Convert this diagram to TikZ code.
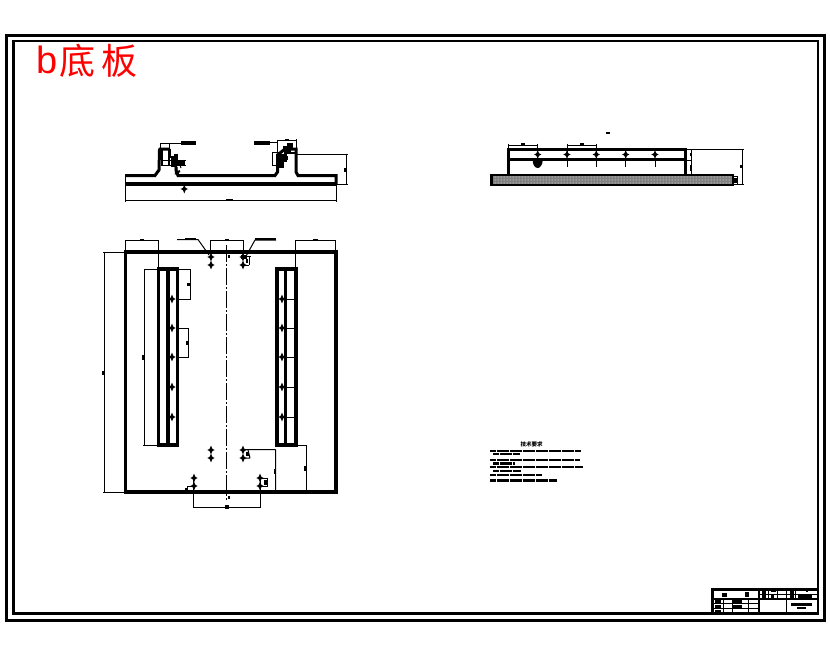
\documentclass[tikz,border=0pt]{standalone}
\usepackage{fontspec}
\setmainfont{Liberation Sans}
\newfontfamily\cjk{Noto Sans CJK SC}
\usetikzlibrary{patterns}
\tikzset{
  thin line/.style={line width=1pt},
  midline/.style={line width=2.2pt},
  textline/.style={line width=2.6pt,dash pattern=on 6pt off 0.5pt},
  holemark/.pic={\fill (-3.6,0)--(0,-1.8)--(3.6,0)--(0,1.8)--cycle; \fill (-1.8,0)--(0,-4.4)--(1.8,0)--(0,4.4)--cycle;},
}
\begin{document}
\begin{tikzpicture}[x=1pt,y=-1pt]
\useasboundingbox (0,0) rectangle (830,654);
\fill[white] (0,0) rectangle (830,654);
% frames
\draw[line width=3pt] (6.5,35) rectangle (824.5,620.5);
\draw[line width=2.8pt] (13.5,41) rectangle (818,613.5);
% heading
\node[red,anchor=base west,inner sep=0pt,font=\fontsize{38}{38}\selectfont] (heading) at (36,73) {b};
\node[red,anchor=base west,inner sep=0pt,font=\cjk\fontsize{36}{36}\selectfont] (headingcjk) at (59,74) {底\hspace{6pt}板};

% ---------- front view ----------
\draw[line width=3pt] (125,175.5) -- (155,175.5) -- (159,170) -- (159.5,150) -- (160,149) -- (170,149);
\draw[line width=3pt] (176,167) -- (176,170) -- (178,175.5) -- (275,175.5) -- (277.5,172) -- (277.5,155) -- (285,149) -- (296,149) -- (296,172) -- (298,175.5) -- (336,175.5) -- (336,184);
\draw[line width=3.2pt] (125,184) -- (336,184);
\draw[thin line] (125,175.5) -- (125,202);
\draw[thin line] (336,184) -- (336,202);
\draw[thin line] (125,200) -- (336,200);
\fill (226,198.5) rectangle (233,200.5);
\pic at (184.3,189) {holemark};
\draw[thin line] (184.3,184) -- (184.3,192);
% left rib detail
\draw[thin line] (160,143) -- (182,143) (160,143) -- (160,150) (169,143) -- (169,150);
\fill (181,141) rectangle (196,144.5);
\draw[midline] (162,149) -- (162,166) (169,149) -- (169,166) (170,149) -- (170,158);
\draw[thin line] (161,160) -- (186,160) (161,165) -- (186,165);
\fill (171,156) rectangle (176,167); \fill (174,154) rectangle (178,166);
\fill (178,160) rectangle (185,165);
\draw[midline] (176,160) -- (176,173) -- (180,171);
\draw[thin line] (180,165) -- (181,168);
% right rib detail
\draw[thin line] (254,142) -- (277,142) (277,139.5) -- (277,153) (277,140.5) -- (296,140.5) (296,139) -- (296,149);
\fill (254,140.5) rectangle (270,144.5);
\fill (285,138.5) rectangle (289,140);
\draw[thin line] (272,152) -- (272,165) -- (279,165) (272,152) -- (283,152);
\fill (277,158) rectangle (284,168);
\fill (279,154) rectangle (287,162);
\fill (283,146) rectangle (291,152);
\fill (287,143) rectangle (293,149);
\draw[midline] (285,149) -- (285,156) (285,153) -- (296,153);
\fill (284,156) rectangle (288,160);
% right height dim
\draw[thin line] (296,154) -- (348,154) (336,184.5) -- (348,184.5) (346.5,154) -- (346.5,184.5);
\fill (344,168) rectangle (347,172);

% ---------- plan view ----------
\draw[line width=3.2pt] (125.5,252) -- (125.5,492) -- (336,492) -- (336,252) -- cycle;
% slots
\draw[line width=3.2pt] (158.5,269) -- (158.5,445) -- (177.5,445) -- (177.5,269) -- cycle;
\draw[line width=3.4pt] (168,269) -- (168,445);
\draw[line width=3.2pt] (277,269) -- (277,445) -- (296,445) -- (296,269) -- cycle;
\draw[line width=3.2pt] (285.5,269) -- (285.5,445);
% centre line
\draw[thin line,dash pattern=on 17pt off 2pt on 2pt off 2pt] (226.7,245) -- (226.7,500);
\fill (228,255) rectangle (229.5,258);
\fill (228,496) rectangle (229.5,499);
% holes
\foreach \yy in {299,328,357,387,417} {
  \pic at (172,\yy) {holemark};
  \pic at (282,\yy) {holemark};
  \draw[thin line] (282,\yy) -- (298,\yy);
}
\foreach \xx in {211,243} { \foreach \yy in {257,265,450,458} { \pic at (\xx,\yy) {holemark}; } }
\foreach \xx in {194,260} { \foreach \yy in {478,486} { \pic at (\xx,\yy) {holemark}; } }
% top dims
\draw[thin line] (125.5,240) -- (158.5,240) (125.5,240) -- (125.5,252) (158.5,240) -- (158.5,269);
\fill (140,238.5) rectangle (144,241);
\draw[thin line] (210.3,240) -- (243.3,240) (210.3,240) -- (210.3,252) (243.3,240) -- (243.3,252);
\fill (225,238.5) rectangle (229,241);
\draw[thin line] (295.5,240) -- (335.5,240) (295.5,240) -- (295.5,269) (335.5,240) -- (335.5,252);
\fill (313,238.5) rectangle (318,241);
\draw[thin line] (177,239.5) -- (198,239.5) -- (209,255);
\fill (185,238) rectangle (196,240);
\draw[thin line] (245,258) -- (255,240) -- (276,240);
\fill (255,238) rectangle (276,240);
\fill (241,255) rectangle (247,259);
\draw[thin line] (243,256) -- (251,256) (243,265) -- (249,265) (249,256) -- (249,265);
\fill (245.5,259) rectangle (248,263);
% long left dims
\draw[thin line] (103,252) -- (125,252) (103,492) -- (125,492) (104.5,252) -- (104.5,492);
\fill (102,371) rectangle (105,375);
\draw[thin line] (144.5,269) -- (158,269) (143,445) -- (158,445) (144.5,269) -- (144.5,445);
\fill (142,355) rectangle (145,360);
\draw[thin line] (177,269) -- (190.5,269) (177,299) -- (190.5,299) (190.5,269) -- (190.5,299);
\fill (187,283) rectangle (190,286);
\draw[thin line] (177,328) -- (189,328) (177,357) -- (189,357) (188.5,328) -- (188.5,357);
\fill (186,341) rectangle (189,345);
% lower dims
\draw[thin line] (245,449.5) -- (275.7,449.5) (275.7,449.5) -- (275.7,492) (245,458) -- (250,458) (248,450) -- (250,458);
\fill (246,452) rectangle (249,456);
\fill (273.5,469) rectangle (275.5,474);
\draw[thin line] (296,445.5) -- (306.7,445.5) (306.7,445.5) -- (306.7,492);
\fill (304,466) rectangle (306.5,471);
\draw[thin line] (193.5,478) -- (193.5,508) (260.5,478) -- (260.5,508) (193.5,507.7) -- (260.5,507.7);
\fill (225,505) rectangle (229,508.5);
\draw[thin line] (260.5,478) -- (268,478) (260.5,486) -- (268,486) (267,478) -- (267,486);
\fill (264,480) rectangle (267,485);
\draw[thin line] (187,486) -- (193,486) (187,486) -- (187,491);
\fill (185,488) rectangle (188,491);

% ---------- side view ----------
\fill (605.5,132) rectangle (610,134);
\draw[line width=3pt] (508,149) rectangle (685,175);
\draw[line width=3pt] (508,159.5) -- (685,159.5);
\fill[black!50] (491,175) rectangle (733,185);
\draw[pattern=dots,pattern color=white,draw=none] (491,175) rectangle (733,185);
\draw[line width=2.6pt] (491,175) rectangle (733,185);
\draw[line width=1.6pt] (492.5,176) -- (492.5,184);
\foreach \xx in {537.7,567,596.3,625.7,655} { \pic at (\xx,154.5) {holemark}; }
\foreach \xx in {567,596.3,625.7,655} { \draw[thin line] (\xx,160) -- (\xx,167); }
\fill (532.7,160) -- (542.7,160) .. controls (542.7,165) and (540,168) .. (537.7,168) .. controls (535,168) and (532.7,165) .. (532.7,160) -- cycle;
\draw[thin line] (508,145) -- (537.7,145) (508,143.5) -- (508,149) (537.7,143.5) -- (537.7,152);
\draw[thin line] (567,145) -- (596.3,145) (567,143.5) -- (567,152) (596.3,143.5) -- (596.3,152);
\fill (521,143) rectangle (525,145); \fill (580,143) rectangle (584,145);
\draw[thin line] (685,149) -- (743.5,149) (691.7,149) -- (691.7,175) (733,184.5) -- (743.5,184.5) (742.5,149) -- (742.5,184.5);
\fill (740,165) rectangle (743,168);
\fill (689.5,153) rectangle (691.5,156); \fill (689.5,165) rectangle (691.5,171);
\draw[thin line] (686,160) -- (691.7,160);
\draw[thin line] (733,176) -- (738,176) (733,184.5) -- (738,184.5) (737.5,176) -- (737.5,184.5);
\fill (734,178) rectangle (737,183);

% ---------- notes ----------
\node[inner sep=0pt,font=\cjk\bfseries\fontsize{5.5}{5.5}\selectfont] (notes) at (531.5,444.5) {技术要求};
\foreach \xa/\xb/\yy in {490/581/450.7, 493/520/454, 490/580/460, 493/515/463.5, 490/583/466.8, 493/521/470.7, 490/542/475, 490/557/480.5} {
  \draw[textline,line width=2.4pt] (\xa,\yy) -- (\xb,\yy);
}

% ---------- title block ----------
\draw[line width=2.8pt] (712.5,613.5) -- (712.5,589.3) -- (818,589.3);
\draw[line width=1.6pt] (712.5,599) -- (818,599);
\draw[thin line] (712.5,603.5) -- (759,603.5) (712.5,608.5) -- (759,608.5);
\draw[line width=1.4pt] (759,589.3) -- (759,613.5) (786.5,589.3) -- (786.5,613.5);
\draw[thin line] (723.5,599) -- (723.5,613.5) (732,599) -- (732,613.5) (748,599) -- (748,613.5);
\draw[thin line] (768,589.3) -- (768,599) (777.5,589.3) -- (777.5,599) (795.5,589.3) -- (795.5,599) (759,594) -- (818,594);
\fill (722,593) rectangle (727,597); \fill (745,592) rectangle (749,597);
\fill (762,590.5) rectangle (766,598); \fill (771,595) rectangle (774,598);
\fill (771,590.5) rectangle (776,592); \fill (790,590.5) rectangle (794,598);
\fill (798,595) rectangle (812,598); \fill (806,590.5) rectangle (808,592);
\fill (715,600) rectangle (721,603); \fill (715,605) rectangle (721,608); \fill (715,610) rectangle (721,612.5);
\fill (732,600) rectangle (742,603); \fill (732,605) rectangle (742,608);
\fill (791,603) rectangle (812,606); \fill (797,606.5) rectangle (806,609);
\end{tikzpicture}
\end{document}
